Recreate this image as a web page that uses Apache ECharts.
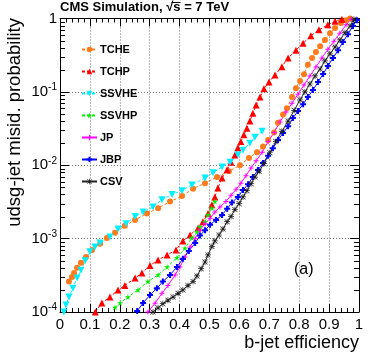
<!DOCTYPE html>
<html>
<head>
<meta charset="utf-8">
<script src="https://cdn.jsdelivr.net/npm/echarts@6/dist/echarts.min.js"></script>
<style>
html,body{margin:0;padding:0;background:#fff;}
#main{width:374px;height:359px;}
</style>
</head>
<body>
<div id="main"></div>
<script>
// 数据：横轴 b-jet 效率，纵轴 udsg-jet 误判概率
var tcheEff = [0.030,0.040,0.047,0.057,0.070,0.087,0.107,0.134,0.157,0.184,0.217,0.251,0.291,0.328,0.368,0.408,0.445,0.485,0.525,0.565,0.602,0.632,0.659,0.679,0.696,0.716,0.729,0.746,0.759,0.776,0.789,0.803,0.816,0.829,0.843,0.856,0.870,0.886,0.903,0.920,0.940,0.957,0.970];
var tcheMis = [2.6e-4,3.0e-4,3.4e-4,4.0e-4,4.7e-4,5.6e-4,7.0e-4,8.5e-4,1.02e-3,1.2e-3,1.5e-3,1.8e-3,2.2e-3,2.6e-3,3.2e-3,3.8e-3,4.8e-3,5.7e-3,6.9e-3,8.3e-3,1.0e-2,1.26e-2,1.5e-2,1.8e-2,2.2e-2,2.8e-2,3.8e-2,4.9e-2,6.0e-2,8.5e-2,0.112,0.141,0.174,0.234,0.29,0.35,0.42,0.51,0.63,0.74,0.87,0.95,1.0];

var tchpEff = [0.118,0.140,0.167,0.194,0.217,0.251,0.274,0.301,0.328,0.358,0.388,0.411,0.435,0.462,0.478,0.495,0.508,0.518,0.528,0.542,0.559,0.572,0.585,0.595,0.605,0.615,0.625,0.635,0.645,0.656,0.669,0.682,0.699,0.719,0.742,0.763,0.789,0.813,0.839,0.866,0.896,0.920,0.943];
var tchpMis = [1.0e-4,1.33e-4,1.6e-4,2.0e-4,2.3e-4,2.9e-4,3.4e-4,4.3e-4,5.1e-4,6.0e-4,7.0e-4,9.3e-4,1.12e-3,1.4e-3,1.7e-3,2.2e-3,2.9e-3,3.7e-3,4.9e-3,6.7e-3,8.7e-3,1.1e-2,1.38e-2,1.73e-2,2.1e-2,2.6e-2,3.2e-2,4.0e-2,5.1e-2,6.6e-2,8.5e-2,0.11,0.136,0.17,0.22,0.29,0.37,0.46,0.58,0.70,0.82,0.92,0.98];

var ssvheEff = [0.013,0.020,0.030,0.043,0.057,0.070,0.084,0.100,0.117,0.134,0.167,0.194,0.221,0.251,0.278,0.311,0.341,0.375,0.408,0.441,0.485,0.512,0.542,0.569,0.595,0.612,0.635,0.652,0.676];
var ssvheMis = [1.0e-4,1.25e-4,1.6e-4,2.1e-4,2.9e-4,3.7e-4,5.0e-4,6.6e-4,7.7e-4,8.7e-4,1.05e-3,1.35e-3,1.6e-3,2.0e-3,2.3e-3,2.7e-3,3.4e-3,4.0e-3,4.5e-3,5.4e-3,6.7e-3,7.9e-3,9.5e-3,1.1e-2,1.38e-2,1.6e-2,2.0e-2,2.4e-2,2.9e-2];

var ssvhpEff = [0.184,0.201,0.227,0.261,0.294,0.328,0.358,0.391,0.418,0.441,0.458,0.468,0.485,0.495,0.508,0.518];
var ssvhpMis = [1.15e-4,1.33e-4,1.6e-4,2.0e-4,2.6e-4,3.2e-4,4.1e-4,5.5e-4,7.4e-4,1.02e-3,1.23e-3,1.45e-3,1.7e-3,2.1e-3,2.6e-3,3.2e-3];

var jpEff = [0.294,0.318,0.341,0.361,0.385,0.401,0.418,0.435,0.452,0.468,0.485,0.502,0.518,0.535,0.555,0.572,0.589,0.605,0.622,0.639,0.656,0.676,0.696,0.716,0.736,0.756,0.776,0.796,0.816,0.836,0.856,0.876,0.896,0.916,0.936,0.957,0.973];
var jpMis = [1.0e-4,1.32e-4,1.8e-4,2.3e-4,3.2e-4,4.1e-4,5.6e-4,7.7e-4,1.0e-3,1.3e-3,1.6e-3,1.9e-3,2.3e-3,2.7e-3,3.2e-3,3.9e-3,4.7e-3,5.7e-3,7.2e-3,9.2e-3,1.15e-2,1.5e-2,2.1e-2,2.8e-2,3.9e-2,5.3e-2,7.0e-2,9.3e-2,0.124,0.165,0.218,0.29,0.38,0.49,0.63,0.82,0.98];

var jbpEff = [0.258,0.278,0.301,0.324,0.344,0.368,0.391,0.411,0.431,0.452,0.468,0.485,0.502,0.522,0.542,0.559,0.575,0.595,0.612,0.629,0.645,0.662,0.679,0.696,0.712,0.729,0.746,0.763,0.779,0.796,0.813,0.829,0.846,0.863,0.880,0.896,0.913,0.930,0.946,0.963,0.980,0.993];
var jbpMis = [1.03e-4,1.33e-4,1.7e-4,2.1e-4,2.6e-4,3.2e-4,4.1e-4,5.3e-4,6.8e-4,8.7e-4,1.1e-3,1.3e-3,1.55e-3,1.8e-3,2.1e-3,2.55e-3,3.1e-3,3.7e-3,4.6e-3,5.5e-3,6.9e-3,8.6e-3,1.07e-2,1.35e-2,1.7e-2,2.2e-2,2.75e-2,3.4e-2,4.4e-2,5.5e-2,6.8e-2,8.5e-2,0.106,0.136,0.175,0.225,0.29,0.37,0.48,0.61,0.79,0.95];

var csvEff = [0.311,0.328,0.344,0.361,0.378,0.395,0.411,0.428,0.445,0.458,0.472,0.485,0.495,0.508,0.518,0.532,0.545,0.559,0.572,0.585,0.599,0.612,0.625,0.639,0.652,0.666,0.682,0.702,0.722,0.742,0.763,0.783,0.803,0.819,0.836,0.853,0.870,0.886,0.903,0.920,0.936,0.953,0.970,0.983];
var csvMis = [1.0e-4,1.14e-4,1.3e-4,1.45e-4,1.6e-4,1.8e-4,2.0e-4,2.3e-4,2.6e-4,3.1e-4,3.9e-4,4.8e-4,6.0e-4,7.8e-4,9.3e-4,1.12e-3,1.35e-3,1.7e-3,2.0e-3,2.5e-3,3.0e-3,3.7e-3,4.5e-3,5.6e-3,6.9e-3,8.3e-3,1.05e-2,1.48e-2,2.1e-2,2.9e-2,4.0e-2,5.6e-2,7.8e-2,0.1,0.128,0.165,0.205,0.265,0.33,0.41,0.51,0.64,0.79,0.98];

var yDecades = [1e-4,1e-3,1e-2,1e-1,1];

var FONT = '"Liberation Sans", Arial, Helvetica, sans-serif';
var TITLE_PRE = 'CMS Simulation, ';
var TITLE_FONT = 'bold 13px ' + FONT;

function zip(a,b){
	var out = [];
	for(var i=0;i<a.length;i++){ out.push([a[i],b[i]]); }
	return out;
}

// 标记形状
var SYM_STAR = 'path://M5,0 L6.2,3.8 L10,3.8 L6.9,6.1 L8.1,10 L5,7.6 L1.9,10 L3.1,6.1 L0,3.8 L3.8,3.8 Z';
var SYM_CROSS = 'path://M3.3,0 H6.7 V3.3 H10 V6.7 H6.7 V10 H3.3 V6.7 H0 V3.3 H3.3 Z';
var SYM_PLUS = 'path://M4,0 H6 V4 H10 V6 H6 V10 H4 V6 H0 V4 H4 Z';
var SYM_ASTER = 'path://M4.4,0 H5.6 V4.4 H10 V5.6 H5.6 V10 H4.4 V5.6 H0 V4.4 H4.4 Z M1.2,0.4 L9.6,8.8 L8.8,9.6 L0.4,1.2 Z M8.8,0.4 L9.6,1.2 L1.2,9.6 L0.4,8.8 Z';

function mkSeries(name, eff, mis, color, symbol, size, dashed, rotate){
	return {
		name: name,
		type: 'line',
		data: zip(eff, mis),
		symbol: symbol,
		symbolSize: size,
		symbolRotate: rotate || 0,
		showSymbol: true,
		clip: true,
		lineStyle: {color: color, width: 1, type: dashed ? [3,2] : 'solid'},
		itemStyle: {color: color},
		emphasis: {disabled: true},
		animation: false
	};
}

var chart = echarts.init(document.getElementById('main'));

var option = {
	backgroundColor: '#fff',
	animation: false,
	grid: {left: 60, right: 15, top: 18.5, bottom: 47},
	legend: {
		orient: 'vertical',
		left: 76,
		top: 39,
		itemWidth: 15,
		itemHeight: 7,
		itemGap: 11,
		textStyle: {fontFamily: FONT, fontSize: 11, fontWeight: 'bold', color: '#000', padding: [0,0,0,-2]},
		data: ['TCHE','TCHP','SSVHE','SSVHP','JP','JBP','CSV']
	},
	xAxis: [{
		type: 'value', min: 0, max: 1, interval: 0.1,
		axisLine: {show: true, onZero: false, lineStyle: {color: '#000', width: 1}},
		axisTick: {show: true, inside: true, length: 8, lineStyle: {color: '#000'}},
		minorTick: {show: true, splitNumber: 5, length: 4, lineStyle: {color: '#000'}},
		axisLabel: {fontFamily: FONT, fontSize: 15, color: '#000', margin: 5,
			formatter: function(v){ return String(Math.round(v*10)/10); }},
		splitLine: {show: true, lineStyle: {color: '#777', type: [1,2], width: 1}}
	},{
		type: 'value', min: 0, max: 1, interval: 0.1, position: 'top',
		axisLine: {show: true, onZero: false, lineStyle: {color: '#000', width: 1}},
		axisTick: {show: true, inside: true, length: 8, lineStyle: {color: '#000'}},
		minorTick: {show: true, splitNumber: 5, length: 4, lineStyle: {color: '#000'}},
		axisLabel: {show: false},
		splitLine: {show: false}
	}],
	yAxis: [{
		type: 'log', logBase: 10, min: 1e-4, max: 1,
		axisLine: {show: true, onZero: false, lineStyle: {color: '#000', width: 1}},
		axisTick: {show: true, inside: true, length: 9, lineStyle: {color: '#000'}},
		axisLabel: {
			fontFamily: FONT, fontSize: 15, color: '#000', margin: 3,
			formatter: function(v){
				var e = Math.round(Math.log10(v));
				if(e === 0){ return '{b|1}'; }
				return '{b|10}{s|' + e + '}';
			},
			rich: {
				b: {fontFamily: FONT, fontSize: 15, color: '#000'},
				s: {fontFamily: FONT, fontSize: 10, color: '#000', padding: [0,0,9,0]}
			}
		},
		splitLine: {show: true, lineStyle: {color: '#777', type: [1,2], width: 1}}
	},{
		type: 'log', logBase: 10, min: 1e-4, max: 1, position: 'right',
		axisLine: {show: true, onZero: false, lineStyle: {color: '#000', width: 1}},
		axisTick: {show: true, inside: true, length: 9, lineStyle: {color: '#000'}},
		axisLabel: {show: false},
		splitLine: {show: false}
	}],
	series: [
		mkSeries('TCHE', tcheEff, tcheMis, '#ff7a1a', 'circle', 6, true),
		mkSeries('TCHP', tchpEff, tchpMis, '#ff0000', 'triangle', 7, true),
		mkSeries('SSVHE', ssvheEff, ssvheMis, '#00f0ff', 'triangle', 7, true, 180),
		mkSeries('SSVHP', ssvhpEff, ssvhpMis, '#00ee00', SYM_STAR, 6, true),
		mkSeries('JP', jpEff, jpMis, '#ff00ff', SYM_PLUS, 5, false),
		mkSeries('JBP', jbpEff, jbpMis, '#0000ff', SYM_CROSS, 6, false),
		mkSeries('CSV', csvEff, csvMis, '#222222', SYM_ASTER, 6, false)
	],
	graphic: [
		{type: 'text', left: 60, top: 1, style: {text: TITLE_PRE + '\u221As = 7 TeV', font: TITLE_FONT, fill: '#000'}},
		{type: 'text', right: 15, top: 334, style: {text: 'b-jet efficiency', font: '18px ' + FONT, fill: '#000'}},
		{type: 'text', left: 294, top: 262, style: {text: '(a)', font: '16px ' + FONT, fill: '#000'}},
		{type: 'text', x: 5, y: 18, rotation: Math.PI/2, style: {text: 'udsg-jet misid. probability', font: '18.5px ' + FONT, fill: '#000', align: 'right', verticalAlign: 'top'}}
	]
};
chart.setOption(option);

// 对数轴次刻度（2..9）：通过坐标换算放置
var extra = [];
var xl = chart.convertToPixel({xAxisIndex: 0}, 0);
var xr = chart.convertToPixel({xAxisIndex: 0}, 1);
for(var d=0; d<yDecades.length-1; d++){
	for(var m=2; m<=9; m++){
		var py = Math.round(chart.convertToPixel({yAxisIndex: 0}, yDecades[d]*m)) + 0.5;
		extra.push({type: 'line', shape: {x1: xl, y1: py, x2: xl+5, y2: py}, style: {stroke: '#000', lineWidth: 1}, silent: true});
		extra.push({type: 'line', shape: {x1: xr-5, y1: py, x2: xr, y2: py}, style: {stroke: '#000', lineWidth: 1}, silent: true});
	}
}
// 根号上的横线（按文字宽度计算）
var ctx = document.createElement('canvas').getContext('2d');
ctx.font = TITLE_FONT;
var preW = ctx.measureText(TITLE_PRE).width;
var rootW = ctx.measureText('\u221A').width;
var sW = ctx.measureText('s').width;
var ox = 60 + preW + rootW * 0.75;
extra.push({type: 'line', shape: {x1: ox, y1: 2.5, x2: 60 + preW + rootW + sW, y2: 2.5}, style: {stroke: '#000', lineWidth: 1}, silent: true});
chart.setOption({graphic: option.graphic.concat(extra)});
</script>
</body>
</html>
